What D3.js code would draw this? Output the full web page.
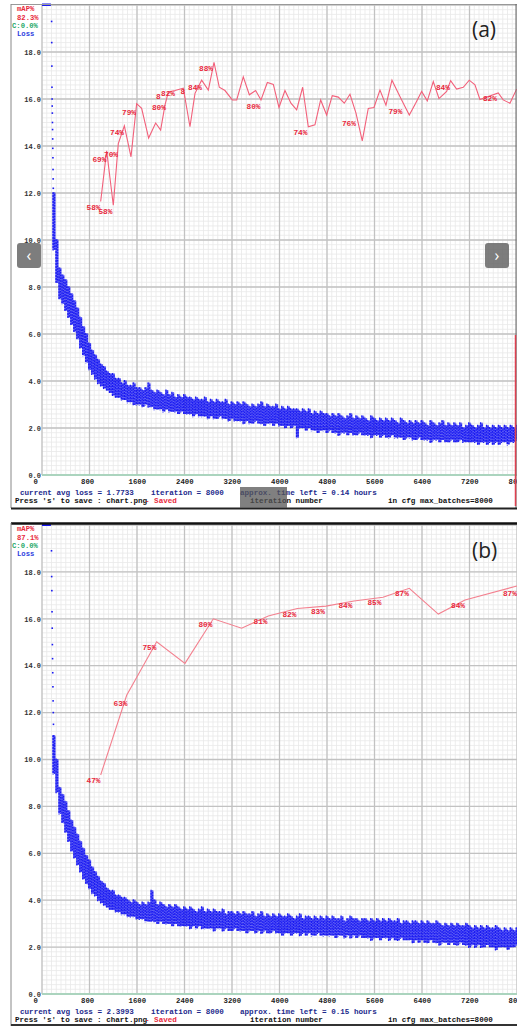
<!DOCTYPE html>
<html lang="en">
<head>
<meta charset="UTF-8">
<title>mAP / loss charts</title>
<script src="https://d3js.org/d3.v7.min.js"></script>
<style>
    body { margin: 0; background: #fff; }
    svg { display: block; }
    text { font-family: "Liberation Mono", "DejaVu Sans Mono", monospace; font-weight: bold; }
    .tag { font-family: "Open Sans", "Noto Sans", sans-serif; font-weight: normal; }
</style>
</head>
<body>
<script>
// ---- data ----
var xTicks = [0, 800, 1600, 2400, 3200, 4000, 4800, 5600, 6400, 7200, 8000];
var yTicks = [0, 2, 4, 6, 8, 10, 12, 14, 16, 18];

// loss band: one column every 50 iterations starting at 200 (high / low edge)
var lossStart = 200, lossStep = 50;
var lossHiA = [12.0, 10.0,
    8.8, 8.5, 8.3, 8.0, 7.7, 7.4, 7.1, 6.7, 6.3, 6.0,
    5.6, 5.3, 5.1, 4.9, 4.7, 4.6, 4.4, 4.3, 4.3, 4.1,
    4.1, 3.9, 4.0, 3.8, 3.8, 3.9, 3.7, 3.7, 3.6, 3.7,
    3.9, 3.6, 3.5, 3.6, 3.5, 3.4, 3.6, 3.4, 3.5, 3.3,
    3.4, 3.3, 3.4, 3.3, 3.3, 3.2, 3.3, 3.2, 3.2, 3.3,
    3.1, 3.2, 3.1, 3.2, 3.1, 3.1, 3.2, 3.0, 3.1, 3.0,
    3.1, 3.0, 3.1, 3.0, 2.9, 3.0, 2.9, 3.0, 3.1, 2.9,
    3.0, 2.9, 2.9, 3.0, 2.8, 2.9, 2.8, 2.9, 2.8, 2.8,
    2.8, 2.7, 2.8, 2.7, 2.8, 2.6, 2.7, 2.6, 2.7, 2.6,
    2.6, 2.5, 2.6, 2.5, 2.6, 2.5, 2.4, 2.5, 2.6, 2.4,
    2.5, 2.4, 2.5, 2.4, 2.3, 2.5, 2.4, 2.3, 2.4, 2.3,
    2.4, 2.3, 2.4, 2.3, 2.2, 2.4, 2.3, 2.2, 2.3, 2.2,
    2.3, 2.2, 2.3, 2.2, 2.1, 2.3, 2.2, 2.1, 2.2, 2.3,
    2.1, 2.2, 2.1, 2.2, 2.1, 2.2, 2.0, 2.1, 2.2, 2.1,
    2.0, 2.1, 2.2, 2.0, 2.1, 2.0, 2.1, 2.0, 2.1, 2.0,
    2.1, 2.0, 2.1, 2.0, 2.1];
var lossLoA = [9.6, 8.2,
    7.5, 7.3, 7.0, 6.7, 6.4, 6.1, 5.8, 5.4, 5.1, 4.8,
    4.5, 4.3, 4.1, 3.9, 3.8, 3.7, 3.6, 3.5, 3.4, 3.3,
    3.3, 3.2, 3.2, 3.1, 3.1, 3.0, 3.0, 3.0, 2.9, 3.0,
    2.9, 2.9, 2.8, 2.8, 2.8, 2.7, 2.8, 2.7, 2.7, 2.7,
    2.6, 2.7, 2.6, 2.6, 2.6, 2.5, 2.6, 2.5, 2.5, 2.5,
    2.4, 2.5, 2.4, 2.4, 2.5, 2.4, 2.4, 2.3, 2.4, 2.3,
    2.3, 2.3, 2.2, 2.3, 2.2, 2.2, 2.3, 2.2, 2.2, 2.1,
    2.2, 2.2, 2.1, 2.2, 2.1, 2.1, 2.0, 2.1, 2.0, 2.1,
    1.6, 2.0, 2.0, 1.9, 2.0, 1.9, 1.9, 1.8, 1.9, 1.9,
    1.8, 1.9, 1.8, 1.8, 1.7, 1.8, 1.8, 1.7, 1.8, 1.7,
    1.7, 1.8, 1.7, 1.7, 1.7, 1.6, 1.7, 1.7, 1.6, 1.7,
    1.6, 1.6, 1.7, 1.6, 1.6, 1.6, 1.5, 1.6, 1.6, 1.5,
    1.5, 1.6, 1.5, 1.5, 1.5, 1.4, 1.5, 1.5, 1.4, 1.5,
    1.4, 1.4, 1.5, 1.4, 1.4, 1.5, 1.4, 1.4, 1.4, 1.4,
    1.4, 1.3, 1.4, 1.4, 1.3, 1.4, 1.3, 1.4, 1.3, 1.4,
    1.4, 1.3, 1.4, 1.4, 1.5];

var lossHiB = [11.0, 10.0,
    8.8, 8.5, 8.2, 7.8, 7.4, 7.1, 6.8, 6.5, 6.2, 5.9,
    5.7, 5.4, 5.2, 5.0, 4.8, 4.7, 4.5, 4.4, 4.4, 4.2,
    4.2, 4.1, 4.1, 4.0, 3.9, 4.0, 3.9, 3.8, 3.9, 3.8,
    3.9, 4.4, 4.0, 3.8, 3.9, 3.8, 3.7, 3.8, 3.7, 3.8,
    3.7, 3.6, 3.7, 3.6, 3.7, 3.6, 3.5, 3.6, 3.7, 3.5,
    3.6, 3.5, 3.6, 3.5, 3.5, 3.6, 3.4, 3.5, 3.5, 3.4,
    3.5, 3.4, 3.5, 3.4, 3.4, 3.5, 3.3, 3.4, 3.5, 3.3,
    3.4, 3.3, 3.4, 3.3, 3.4, 3.3, 3.3, 3.4, 3.3, 3.2,
    3.3, 3.4, 3.2, 3.3, 3.3, 3.2, 3.3, 3.2, 3.3, 3.2,
    3.3, 3.2, 3.3, 3.2, 3.2, 3.3, 3.1, 3.2, 3.3, 3.2,
    3.2, 3.1, 3.2, 3.2, 3.1, 3.2, 3.1, 3.2, 3.1, 3.2,
    3.1, 3.2, 3.1, 3.1, 3.2, 3.0, 3.1, 3.1, 3.0, 3.1,
    3.1, 3.0, 3.1, 3.0, 3.1, 3.0, 3.0, 3.1, 3.0, 2.9,
    3.0, 2.9, 3.0, 2.9, 3.0, 2.9, 2.9, 3.0, 2.9, 2.8,
    2.9, 2.8, 2.9, 2.8, 2.9, 2.8, 2.8, 2.9, 2.8, 2.7,
    2.8, 2.7, 2.8, 2.7, 2.8];
var lossLoB = [9.4, 8.6,
    7.7, 7.3, 6.9, 6.5, 6.1, 5.8, 5.5, 5.2, 4.9, 4.7,
    4.5, 4.3, 4.2, 4.0, 3.9, 3.8, 3.7, 3.6, 3.6, 3.5,
    3.5, 3.4, 3.4, 3.3, 3.3, 3.3, 3.2, 3.2, 3.2, 3.1,
    3.1, 3.1, 3.1, 3.0, 3.1, 3.0, 3.0, 3.0, 2.9, 3.0,
    2.9, 2.9, 2.9, 2.9, 2.8, 2.9, 2.8, 2.9, 2.8, 2.8,
    2.8, 2.8, 2.7, 2.8, 2.8, 2.7, 2.8, 2.7, 2.7, 2.8,
    2.7, 2.7, 2.7, 2.6, 2.7, 2.7, 2.6, 2.7, 2.6, 2.7,
    2.6, 2.6, 2.7, 2.6, 2.6, 2.5, 2.6, 2.6, 2.5, 2.6,
    2.6, 2.5, 2.6, 2.5, 2.6, 2.5, 2.5, 2.6, 2.5, 2.5,
    2.5, 2.5, 2.5, 2.4, 2.5, 2.5, 2.4, 2.5, 2.4, 2.5,
    2.4, 2.5, 2.4, 2.4, 2.4, 2.3, 2.4, 2.4, 2.3, 2.4,
    2.4, 2.3, 2.4, 2.3, 2.3, 2.4, 2.3, 2.3, 2.3, 2.2,
    2.3, 2.2, 2.3, 2.2, 2.2, 2.3, 2.2, 2.2, 2.1, 2.2,
    2.2, 2.1, 2.2, 2.1, 2.1, 2.2, 2.1, 2.1, 2.0, 2.1,
    2.0, 2.1, 2.0, 2.0, 2.1, 2.0, 2.0, 1.9, 2.0, 2.0,
    2.0, 1.9, 2.0, 2.0, 2.1];

// sparse loss dots of the first iterations
var earlyIterA = [162, 164, 166, 168, 170, 172, 174, 176, 178, 180, 182, 184, 186, 188, 190];
var earlyLossA = [19.3, 18.4, 17.4, 16.5, 16.0, 15.7, 15.4, 15.0, 14.7, 14.3, 13.9, 13.5, 13.0, 12.6, 12.2];
var earlyIterB = [160, 163, 166, 169, 172, 175, 178, 181, 184, 187, 190, 193, 196, 199];
var earlyLossB = [18.9, 17.8, 17.2, 16.3, 15.6, 14.9, 14.3, 13.7, 13.1, 12.5, 12.0, 11.5, 11.0, 10.6];
var clippedUntil = 150;   // loss above the top of the chart

// mAP curves
var mapIterA = [988, 1089, 1201, 1285, 1387, 1499, 1594, 1678, 1796, 1914, 1998, 2071, 2099, 2127, 2240,
    2380, 2492, 2577, 2689, 2801, 2897, 2986, 3082, 3205, 3279, 3390, 3492, 3598, 3688, 3795,
    3896, 3991, 4092, 4193, 4289, 4390, 4485, 4597, 4693, 4794, 4889, 4990, 5091, 5187, 5288,
    5394, 5495, 5591, 5692, 5793, 5894, 6001, 6085, 6186, 6293, 6394, 6489, 6590, 6686, 6815,
    6882, 6983, 7095, 7196, 7292, 7376, 7684, 7768, 7881, 7993];
var mapValA = [58.2, 69, 57.4, 70.5, 74.3, 67.7, 79, 78, 71.7, 74.9, 73.4, 78.7, 80.1, 81.5, 81.8,
    82.3, 74.1, 81.2, 84, 81.9, 87.8, 82.5, 81.8, 79.8, 79.8, 84.7, 80.9, 81.8, 79.8, 83.5,
    83.1, 78.2, 81.8, 79.1, 77.7, 82.5, 74.1, 74.5, 79.8, 76.6, 80.7, 80.4, 79.1, 81.0, 77.0,
    71.1, 78.0, 78.2, 81.9, 78.7, 84.0, 81.2, 79.1, 76.6, 79.1, 81.6, 79.6, 83.7, 80.1, 81.6,
    83.9, 82.1, 82.5, 84.0, 83.0, 79.9, 81.3, 79.8, 79.1, 82.1];
var mapIterB = [988, 1426, 1931, 2408, 2885, 3362, 3811, 4300, 4783, 5255, 5743, 6186, 6675, 7124, 8000];
var mapValB = [46.7, 63.7, 75.1, 70.5, 80.0, 78.0, 80.6, 82.2, 82.7, 83.8, 84.6, 86.5, 81.0, 84.0, 87.0];

// mAP labels (centre position in iteration / mAP units)
var labelTextA = ["58%", "58%", "69%", "70%", "74%", "79%", "80%", "8", "82%", "8", "84%", "88%", "80%", "74%", "76%", "79%", "84%", "82%"];
var labelIterA = [867, 1069, 968, 1162, 1263, 1465, 1970, 1960, 2122, 2374, 2577, 2762, 3562, 4353, 5170, 5953, 6753, 7544];
var labelMapA = [57.0, 56.2, 67.2, 68.3, 73.0, 77.2, 78.3, 80.6, 81.3, 81.7, 82.6, 86.6, 78.5, 73.0, 74.9, 77.4, 82.6, 80.1];
var labelTextB = ["47%", "63%", "75%", "80%", "81%", "82%", "83%", "84%", "85%", "87%", "84%", "87%"];
var labelIterB = [867, 1322, 1810, 2753, 3680, 4168, 4648, 5111, 5599, 6062, 7006, 7881];
var labelMapB = [45.6, 62.0, 74.0, 78.9, 79.5, 81.0, 81.7, 82.9, 83.6, 85.5, 82.9, 85.5];

var panels = [
    { top: 5, bottom: 475, tag: "(a)", tagY: 30, mapNow: "82.3%", avgLoss: "1.7733", hoursLeft: "0.14",
      hi: lossHiA, lo: lossLoA, earlyIter: earlyIterA, earlyLoss: earlyLossA,
      mapIter: mapIterA, mapVal: mapValA, labText: labelTextA, labIter: labelIterA, labMap: labelMapA,
      lineColor: "#f2607a" },
    { top: 525, bottom: 994, tag: "(b)", tagY: 551, mapNow: "87.1%", avgLoss: "2.3993", hoursLeft: "0.15",
      hi: lossHiB, lo: lossLoB, earlyIter: earlyIterB, earlyLoss: earlyLossB,
      mapIter: mapIterB, mapVal: mapValB, labText: labelTextB, labIter: labelIterB, labMap: labelMapB,
      lineColor: "#f3808f" }
];

var width = 517, height = 1026;
var blue = "#1a1af2", red = "#e8283c";

var svg = d3.select("body").append("svg")
    .attr("width", width)
    .attr("height", height);

var x = d3.scaleLinear().domain([0, 8000]).range([42, 517]);

panels.forEach(function(p) {
    var y = d3.scaleLinear().domain([0, 20]).range([p.bottom, p.top]);
    var yMap = d3.scaleLinear().domain([0, 100]).range([p.bottom, p.top]);
    var g = svg.append("g");

    // minor grid
    g.append("g").selectAll("line").data(d3.range(0, 8001, 80)).join("line")
        .attr("x1", function(d) { return x(d); }).attr("x2", function(d) { return x(d); })
        .attr("y1", p.top).attr("y2", p.bottom)
        .attr("stroke", "#e8e8e8").attr("stroke-width", 0.8);
    g.append("g").selectAll("line").data(d3.range(0, 101)).join("line")
        .attr("x1", 42).attr("x2", 517)
        .attr("y1", function(d) { return y(d * 0.2); }).attr("y2", function(d) { return y(d * 0.2); })
        .attr("stroke", "#e8e8e8").attr("stroke-width", 0.8);

    // major grid
    g.append("g").selectAll("line").data(xTicks).join("line")
        .attr("x1", function(d) { return x(d); }).attr("x2", function(d) { return x(d); })
        .attr("y1", p.top).attr("y2", p.bottom)
        .attr("stroke", "#c2c2c2").attr("stroke-width", 1.3);
    g.append("g").selectAll("line").data(yTicks.concat([20])).join("line")
        .attr("x1", 42).attr("x2", 517)
        .attr("y1", function(d) { return y(d); }).attr("y2", function(d) { return y(d); })
        .attr("stroke", "#c2c2c2").attr("stroke-width", 1.3);

    // green base line
    g.append("line").attr("x1", 42).attr("x2", 517)
        .attr("y1", y(0)).attr("y2", y(0))
        .attr("stroke", "#9fd6b8").attr("stroke-width", 1.6);

    // axes
    var ax = g.append("g")
        .attr("transform", "translate(0," + (p.bottom + 1) + ")")
        .call(d3.axisBottom(x).tickValues(xTicks).tickFormat(d3.format("d")).tickSize(0).tickPadding(3));
    ax.select(".domain").remove();
    ax.selectAll("text")
        .attr("text-anchor", "start").attr("dx", -9)
        .style("font-family", "Liberation Mono, monospace").style("font-weight", "bold")
        .style("font-size", "7.3px").attr("fill", "#222");

    var ay = g.append("g")
        .attr("transform", "translate(41,0)")
        .call(d3.axisLeft(y).tickValues(yTicks).tickFormat(d3.format(".1f")).tickSize(0).tickPadding(0));
    ay.select(".domain").remove();
    ay.selectAll("text")
        .style("font-family", "Liberation Mono, monospace").style("font-weight", "bold")
        .style("font-size", "7px").attr("fill", "#333");

    // loss band: a faint body plus dotted columns for the scattered look
    var colW = x(lossStep) - x(0);
    var band = g.append("g");
    band.selectAll("rect").data(p.hi).join("rect")
        .attr("x", function(d, i) { return x(lossStart + i * lossStep) - colW / 2; })
        .attr("width", colW + 0.2)
        .attr("y", function(d) { return y(d); })
        .attr("height", function(d, i) { return y(p.lo[i]) - y(d); })
        .attr("fill", blue).attr("opacity", 0.7);
    band.selectAll("line").data(p.hi).join("line")
        .attr("x1", function(d, i) { return x(lossStart + i * lossStep) - colW / 4; })
        .attr("x2", function(d, i) { return x(lossStart + i * lossStep) - colW / 4; })
        .attr("y1", function(d) { return y(d) - 1; })
        .attr("y2", function(d, i) { return y(p.lo[i]) + 1; })
        .attr("stroke", blue).attr("stroke-width", 1.3)
        .attr("stroke-dasharray", "2 1");
    band.append("g").selectAll("line").data(p.hi).join("line")
        .attr("x1", function(d, i) { return x(lossStart + i * lossStep) + colW / 4; })
        .attr("x2", function(d, i) { return x(lossStart + i * lossStep) + colW / 4; })
        .attr("y1", function(d) { return y(d) - 0.5; })
        .attr("y2", function(d, i) { return y(p.lo[i]) + 0.5; })
        .attr("stroke", blue).attr("stroke-width", 1.3)
        .attr("stroke-dasharray", "1.5 1.2").attr("stroke-dashoffset", 1);

    g.append("g").selectAll("rect").data(p.earlyLoss).join("rect")
        .attr("x", function(d, i) { return x(p.earlyIter[i]) - 0.8; })
        .attr("y", function(d) { return y(d) - 0.8; })
        .attr("width", 1.6).attr("height", 1.6)
        .attr("fill", blue);

    g.append("rect")
        .attr("x", x(0)).attr("width", x(clippedUntil) - x(0))
        .attr("y", p.top - 1.5).attr("height", 2.5)
        .attr("fill", blue);

    // mAP line
    var mapLine = d3.line()
        .x(function(d, i) { return x(p.mapIter[i]); })
        .y(function(d) { return yMap(d); });
    g.append("path")
        .datum(p.mapVal)
        .attr("d", mapLine)
        .attr("fill", "none")
        .attr("stroke", p.lineColor)
        .attr("stroke-width", 1.1);

    g.append("g").selectAll("text").data(p.labText).join("text")
        .attr("x", function(d, i) { return x(p.labIter[i]); })
        .attr("y", function(d, i) { return yMap(p.labMap[i]); })
        .attr("dy", "0.35em")
        .attr("text-anchor", "middle")
        .style("font-size", "7.8px")
        .attr("fill", red)
        .text(function(d) { return d; });

    // legend top-left
    var legend = [
        { t: "mAP%", c: red, x: 17, dy: 3 },
        { t: p.mapNow, c: red, x: 17, dy: 12 },
        { t: "C:0.0%", c: "#1fa868", x: 12, dy: 20 },
        { t: "Loss", c: "#2f3fe0", x: 17, dy: 28 }
    ];
    g.append("g").selectAll("text").data(legend).join("text")
        .attr("x", function(d) { return d.x; })
        .attr("y", function(d) { return p.top + d.dy; })
        .attr("dy", "0.35em")
        .style("font-size", "7.2px")
        .attr("fill", function(d) { return d.c; })
        .text(function(d) { return d.t; });

    // status lines
    var s1 = p.bottom + 17, s2 = p.bottom + 25;
    var status = g.append("g").style("font-size", "7.6px");
    status.append("text").attr("x", 20).attr("y", s1).attr("dy", "0.35em").attr("fill", "#1c2a8c")
        .text("current avg loss = " + p.avgLoss);
    status.append("text").attr("x", 151).attr("y", s1).attr("dy", "0.35em").attr("fill", "#1c2a8c")
        .text("iteration = 8000");
    status.append("text").attr("x", 240).attr("y", s1).attr("dy", "0.35em").attr("fill", "#1c2a8c")
        .text("approx. time left = " + p.hoursLeft + " hours");
    status.append("text").attr("x", 15).attr("y", s2).attr("dy", "0.35em").attr("fill", "#111")
        .text("Press 's' to save : chart.png");
    status.append("text").attr("x", 145).attr("y", s2).attr("dy", "0.35em").attr("fill", red)
        .text("- Saved");
    status.append("text").attr("x", 250).attr("y", s2).attr("dy", "0.35em").attr("fill", "#111")
        .text("iteration number");
    status.append("text").attr("x", 388).attr("y", s2).attr("dy", "0.35em").attr("fill", "#111")
        .text("in cfg max_batches=8000");

    // panel tag
    g.append("text").attr("class", "tag")
        .attr("x", 472).attr("y", p.tagY).attr("dy", "0.35em")
        .style("font-size", "21px").attr("fill", "#222")
        .text(p.tag);
});

// frames of the two screenshots
svg.append("line").attr("x1", 11).attr("x2", 517).attr("y1", 4.5).attr("y2", 4.5).attr("stroke", "#999");
svg.append("line").attr("x1", 11).attr("x2", 11).attr("y1", 4).attr("y2", 508).attr("stroke", "#888");
svg.append("line").attr("x1", 516).attr("x2", 516).attr("y1", 4).attr("y2", 508).attr("stroke", "#666");
svg.append("line").attr("x1", 515.5).attr("x2", 515.5).attr("y1", 335).attr("y2", 506).attr("stroke", "#e04050").attr("stroke-width", 1.5);
svg.append("line").attr("x1", 11).attr("x2", 517).attr("y1", 508.5).attr("y2", 508.5).attr("stroke", "#222").attr("stroke-width", 2);
svg.append("line").attr("x1", 11).attr("x2", 517).attr("y1", 523.5).attr("y2", 523.5).attr("stroke", "#111").attr("stroke-width", 2.5);
svg.append("line").attr("x1", 11).attr("x2", 11).attr("y1", 523).attr("y2", 1026).attr("stroke", "#888");
svg.append("line").attr("x1", 11).attr("x2", 517).attr("y1", 1025).attr("y2", 1025).attr("stroke", "#333").attr("stroke-width", 2);

// image viewer overlay in the first screenshot
svg.append("rect").attr("x", 240).attr("y", 487).attr("width", 47).attr("height", 21)
    .attr("fill", "#555").attr("opacity", 0.75);
[{ x: 17, t: "\u2039" }, { x: 485, t: "\u203A" }].forEach(function(b) {
    svg.append("rect").attr("x", b.x).attr("y", 243).attr("width", 24).attr("height", 25).attr("rx", 3)
        .attr("fill", "#666").attr("opacity", 0.85);
    svg.append("text").attr("class", "tag").attr("x", b.x + 12).attr("y", 255.5).attr("dy", "0.35em")
        .attr("text-anchor", "middle").style("font-size", "16px").attr("fill", "#fff").text(b.t);
});
</script>
</body>
</html>
